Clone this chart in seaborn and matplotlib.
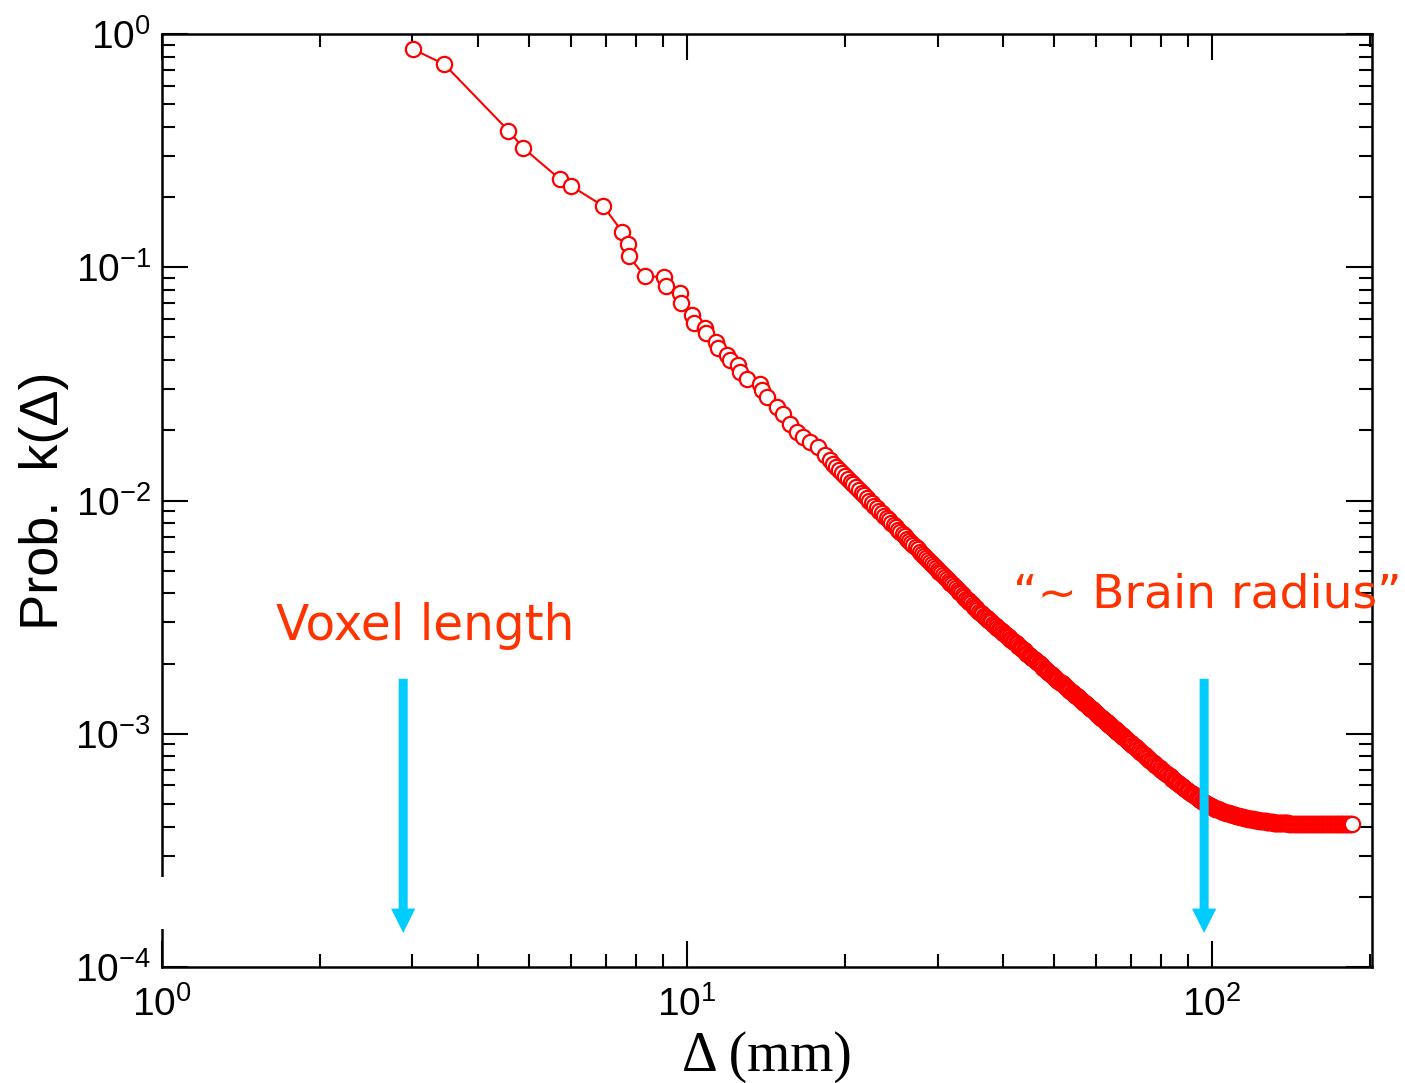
import numpy as np
import pandas as pd
import matplotlib
matplotlib.use("Agg")
import matplotlib.pyplot as plt
from matplotlib.patches import Rectangle
from matplotlib.ticker import LogLocator, FuncFormatter, NullFormatter
import seaborn as sns

# ---- measured connection-length distribution ----
# short range: individually resolved distances (mm) and probabilities
short_mm = [3.01, 3.45, 4.57, 4.88, 5.73, 6.01, 6.93, 7.53, 7.73, 7.75,
            8.30, 9.04, 9.12, 9.70, 9.76, 10.24, 10.31, 10.83, 10.89, 11.36,
            11.46, 11.93, 12.07, 12.52, 12.62, 13.03, 13.77, 13.88, 14.19, 14.82,
            15.26, 15.72, 16.18, 16.66, 17.15, 17.79, 18.30, 18.70]
short_prob = [0.860, 0.741, 0.385, 0.324, 0.2385, 0.2233, 0.1827, 0.1417, 0.1264, 0.1115,
              0.0918, 0.0906, 0.0829, 0.0775, 0.0701, 0.0622, 0.0576, 0.0550, 0.0524, 0.0478,
              0.0451, 0.0422, 0.0399, 0.0380, 0.0355, 0.0333, 0.0317, 0.0297, 0.0277, 0.0251,
              0.0236, 0.0213, 0.0196, 0.0187, 0.0178, 0.0169, 0.0156, 0.01485]

# 19 - 40 mm, 0.25 mm bins
mid_mm = [19.0, 19.25, 19.5, 19.75, 20.0, 20.25, 20.5, 20.75, 21.0, 21.25,
          21.5, 21.75, 22.0, 22.25, 22.5, 22.75, 23.0, 23.25, 23.5, 23.75,
          24.0, 24.25, 24.5, 24.75, 25.0, 25.25, 25.5, 25.75, 26.0, 26.25,
          26.5, 26.75, 27.0, 27.25, 27.5, 27.75, 28.0, 28.25, 28.5, 28.75,
          29.0, 29.25, 29.5, 29.75, 30.0, 30.25, 30.5, 30.75, 31.0, 31.25,
          31.5, 31.75, 32.0, 32.25, 32.5, 32.75, 33.0, 33.25, 33.5, 33.75,
          34.0, 34.25, 34.5, 34.75, 35.0, 35.25, 35.5, 35.75, 36.0, 36.25,
          36.5, 36.75, 37.0, 37.25, 37.5, 37.75, 38.0, 38.25, 38.5, 38.75,
          39.0, 39.25, 39.5, 39.75]
mid_prob = [0.01432, 0.01391, 0.01350, 0.01312, 0.01274, 0.01239, 0.01204, 0.01172, 0.01140, 0.01110,
            0.01081, 0.01053, 0.01026, 0.01000, 0.00974, 0.00950, 0.00927, 0.00904, 0.00882, 0.00861,
            0.00841, 0.00821, 0.00802, 0.00784, 0.00767, 0.00750, 0.00733, 0.00717, 0.00701, 0.00686,
            0.00671, 0.00657, 0.00643, 0.00630, 0.00617, 0.00604, 0.00592, 0.00580, 0.00569, 0.00558,
            0.00547, 0.00536, 0.00526, 0.00516, 0.00506, 0.00496, 0.00487, 0.00478, 0.00469, 0.00461,
            0.00453, 0.00445, 0.00437, 0.00429, 0.00422, 0.00414, 0.00407, 0.00400, 0.00394, 0.00387,
            0.00380, 0.00374, 0.00368, 0.00362, 0.00356, 0.00350, 0.00345, 0.00339, 0.00334, 0.00329,
            0.003247, 0.00320, 0.003163, 0.00312, 0.003081, 0.00304, 0.003002, 0.00296, 0.002926, 0.00289,
            0.002853, 0.00282, 0.002784, 0.00275]

# 40 - 70 mm, 0.25 mm bins
far_mm = [40.0, 40.25, 40.5, 40.75, 41.0, 41.25, 41.5, 41.75, 42.0, 42.25, 42.5, 42.75,
          43.0, 43.25, 43.5, 43.75, 44.0, 44.25, 44.5, 44.75, 45.0, 45.25, 45.5, 45.75,
          46.0, 46.25, 46.5, 46.75, 47.0, 47.25, 47.5, 47.75, 48.0, 48.25, 48.5, 48.75,
          49.0, 49.25, 49.5, 49.75, 50.0, 50.25, 50.5, 50.75, 51.0, 51.25, 51.5, 51.75,
          52.0, 52.25, 52.5, 52.75, 53.0, 53.25, 53.5, 53.75, 54.0, 54.25, 54.5, 54.75,
          55.0, 55.25, 55.5, 55.75, 56.0, 56.25, 56.5, 56.75, 57.0, 57.25, 57.5, 57.75,
          58.0, 58.25, 58.5, 58.75, 59.0, 59.25, 59.5, 59.75, 60.0, 60.25, 60.5, 60.75,
          61.0, 61.25, 61.5, 61.75, 62.0, 62.25, 62.5, 62.75, 63.0, 63.25, 63.5, 63.75,
          64.0, 64.25, 64.5, 64.75, 65.0, 65.25, 65.5, 65.75, 66.0, 66.25, 66.5, 66.75,
          67.0, 67.25, 67.5, 67.75, 68.0, 68.25, 68.5, 68.75, 69.0, 69.25, 69.5, 69.75]
far_prob = [0.002716, 0.002684, 0.002652, 0.002620, 0.002588, 0.002559, 0.002529, 0.002500,
            0.002470, 0.002442, 0.002414, 0.002386, 0.002358, 0.002332, 0.002306, 0.002280,
            0.002254, 0.002230, 0.002206, 0.002182, 0.002158, 0.002135, 0.002113, 0.002090,
            0.002067, 0.002046, 0.002025, 0.002004, 0.001983, 0.001963, 0.001943, 0.001923,
            0.001903, 0.001884, 0.001865, 0.001846, 0.001827, 0.001809, 0.001792, 0.001774,
            0.001756, 0.001739, 0.001723, 0.001706, 0.001689, 0.001674, 0.001658, 0.001643,
            0.001627, 0.001612, 0.001597, 0.001582, 0.001567, 0.001553, 0.001539, 0.001525,
            0.001511, 0.001498, 0.001485, 0.001471, 0.001458, 0.001446, 0.001433, 0.001421,
            0.001408, 0.001396, 0.001384, 0.001372, 0.001360, 0.001349, 0.001338, 0.001326,
            0.001315, 0.001304, 0.001294, 0.001283, 0.001272, 0.001262, 0.001251, 0.001241,
            0.001230, 0.001221, 0.001211, 0.001202, 0.001192, 0.001183, 0.001173, 0.001164,
            0.001154, 0.001145, 0.001137, 0.001128, 0.001119, 0.001111, 0.001102, 0.001094,
            0.001085, 0.001077, 0.001069, 0.001060, 0.001052, 0.001045, 0.001037, 0.001030,
            0.001022, 0.001015, 0.001007, 0.001000, 0.000992, 0.000985, 0.000978, 0.000971,
            0.000964, 0.000957, 0.000951, 0.000944, 0.000937, 0.000930, 0.000924, 0.000917]

# 70 - 140 mm, 0.5 mm bins
tail_mm = [70.0, 70.5, 71.0, 71.5, 72.0, 72.5, 73.0, 73.5, 74.0, 74.5,
           75.0, 75.5, 76.0, 76.5, 77.0, 77.5, 78.0, 78.5, 79.0, 79.5,
           80.0, 80.5, 81.0, 81.5, 82.0, 82.5, 83.0, 83.5, 84.0, 84.5,
           85.0, 85.5, 86.0, 86.5, 87.0, 87.5, 88.0, 88.5, 89.0, 89.5,
           90.0, 90.5, 91.0, 91.5, 92.0, 92.5, 93.0, 93.5, 94.0, 94.5,
           95.0, 95.5, 96.0, 96.5, 97.0, 97.5, 98.0, 98.5, 99.0, 99.5,
           100.0, 100.5, 101.0, 101.5, 102.0, 102.5, 103.0, 103.5, 104.0, 104.5,
           105.0, 105.5, 106.0, 106.5, 107.0, 107.5, 108.0, 108.5, 109.0, 109.5,
           110.0, 110.5, 111.0, 111.5, 112.0, 112.5, 113.0, 113.5, 114.0, 114.5,
           115.0, 115.5, 116.0, 116.5, 117.0, 117.5, 118.0, 118.5, 119.0, 119.5,
           120.0, 120.5, 121.0, 121.5, 122.0, 122.5, 123.0, 123.5, 124.0, 124.5,
           125.0, 125.5, 126.0, 126.5, 127.0, 127.5, 128.0, 128.5, 129.0, 129.5,
           130.0, 130.5, 131.0, 131.5, 132.0, 132.5, 133.0, 133.5, 134.0, 134.5,
           135.0, 135.5, 136.0, 136.5, 137.0, 137.5, 138.0, 138.5, 139.0, 139.5]
tail_prob = [0.000911, 0.000899, 0.000886, 0.000874, 0.000862, 0.000851, 0.000839, 0.000828, 0.000817, 0.000807,
             0.000796, 0.000786, 0.000775, 0.000766, 0.000756, 0.000747, 0.000737, 0.000728, 0.000719, 0.000710,
             0.000701, 0.000694, 0.000686, 0.000679, 0.000671, 0.000664, 0.000657, 0.000650, 0.000642, 0.000636,
             0.000629, 0.000623, 0.000616, 0.000610, 0.000603, 0.000597, 0.000591, 0.000586, 0.000580, 0.000575,
             0.000569, 0.000564, 0.000559, 0.000554, 0.000549, 0.000544, 0.000539, 0.000534, 0.000529, 0.000525,
             0.000520, 0.000516, 0.000512, 0.000509, 0.000505, 0.000502, 0.000498, 0.000495, 0.000491, 0.000488,
             0.000485, 0.000483, 0.000480, 0.000478, 0.000476, 0.000474, 0.000471, 0.000469, 0.000467, 0.000465,
             0.000463, 0.000462, 0.000460, 0.000459, 0.000457, 0.000456, 0.000454, 0.000453, 0.000451, 0.000450,
             0.000448, 0.000447, 0.000445, 0.000444, 0.000443, 0.000442, 0.000441, 0.000440, 0.000439, 0.000438,
             0.000437, 0.000436, 0.000435, 0.000434, 0.000433, 0.000432, 0.000431, 0.000430, 0.000429, 0.000429,
             0.000428, 0.000428, 0.000427, 0.000427, 0.000426, 0.000425, 0.000424, 0.000424, 0.000423, 0.000423,
             0.000422, 0.000422, 0.000421, 0.000421, 0.000420, 0.000420, 0.000419, 0.000419, 0.000418, 0.000418,
             0.000417, 0.000417, 0.000416, 0.000416, 0.000416, 0.000416, 0.000415, 0.000415, 0.000415, 0.000415,
             0.000414, 0.000414, 0.000414, 0.000414, 0.000413, 0.000413, 0.000413, 0.000413, 0.000413, 0.000413]

# 140 - 185 mm, 1 mm bins
end_mm = [140, 141, 142, 143, 144, 145, 146, 147, 148, 149,
          150, 151, 152, 153, 154, 155, 156, 157, 158, 159,
          160, 161, 162, 163, 164, 165, 166, 167, 168, 169,
          170, 171, 172, 173, 174, 175, 176, 177, 178, 179,
          180, 181, 182, 183, 184, 185]
end_prob = [0.000412, 0.000412, 0.000412, 0.000411, 0.000411, 0.000411, 0.000411, 0.000411, 0.000410, 0.000410,
            0.000410, 0.000410, 0.000410, 0.000410, 0.000410, 0.000410, 0.000410, 0.000410, 0.000410, 0.000409,
            0.000409, 0.000409, 0.000409, 0.000409, 0.000409, 0.000409, 0.000409, 0.000409, 0.000409, 0.000409,
            0.000409, 0.000409, 0.000409, 0.000409, 0.000409, 0.000409, 0.000409, 0.000409, 0.000409, 0.000409,
            0.000409, 0.000409, 0.000409, 0.000409, 0.000409, 0.000409]

# reference scales marked with arrows (mm)
voxel_mm = 2.88
brain_mm = 96.6

# ---- styling ----
sns.set_style("ticks")
plt.rcParams["font.family"] = ["Liberation Sans", "DejaVu Sans"]
plt.rcParams["mathtext.fontset"] = "custom"
plt.rcParams["mathtext.rm"] = "Liberation Sans"
plt.rcParams["mathtext.it"] = "Liberation Sans:italic"
plt.rcParams["mathtext.bf"] = "Liberation Sans:bold"
for key in ("text.color", "axes.labelcolor", "xtick.color", "ytick.color",
            "xtick.labelcolor", "ytick.labelcolor", "axes.edgecolor"):
    plt.rcParams[key] = "black"

RED = "#ff0000"
NOTE = "#ff3300"
CYAN = "#00ccff"

df = pd.DataFrame({
    "dist": short_mm + mid_mm + far_mm + tail_mm + end_mm,
    "prob": short_prob + mid_prob + far_prob + tail_prob + end_prob,
})

W, H = 1405, 1083
fig = plt.figure(figsize=(W / 100, H / 100), dpi=100)
ax = fig.add_axes([162 / W, 1 - 967 / H, 1210 / W, 933 / H])

sns.lineplot(data=df, x="dist", y="prob", ax=ax, estimator=None, sort=False,
             color=RED, linewidth=1.5, marker="o", markersize=11,
             markerfacecolor="white", markeredgecolor=RED, markeredgewidth=1.6)

ax.set_xscale("log")
ax.set_yscale("log")
ax.set_xlim(1, 201.7)
ax.set_ylim(1e-4, 1)

pow_fmt = FuncFormatter(lambda v, p: r"$\mathregular{10^{%d}}$" % int(round(np.log10(v))))
for axis in (ax.xaxis, ax.yaxis):
    axis.set_major_locator(LogLocator(base=10, numticks=10))
    axis.set_minor_locator(LogLocator(base=10, subs=np.arange(2, 10), numticks=40))
    axis.set_major_formatter(pow_fmt)
    axis.set_minor_formatter(NullFormatter())

ax.tick_params(which="both", direction="in", top=True, right=True,
               width=1.5, color="black", labelcolor="black")
ax.tick_params(which="major", length=19, labelsize=28)
ax.tick_params(which="minor", length=9.5)
ax.tick_params(axis="x", which="major", pad=14)
ax.tick_params(axis="y", which="major", pad=8)
for sp in ax.spines.values():
    sp.set_linewidth(1.8)
    sp.set_color("black")

ax.set_xlabel("Δ (mm)", family=["Liberation Serif", "DejaVu Serif"], fontsize=40, labelpad=5)
ax.set_ylabel("Prob.  k(Δ)", fontsize=39, labelpad=4)

# annotations
fig.text(276 / W, 1 - 640 / H, "Voxel length", ha="left", va="baseline",
         fontsize=35, family="DejaVu Sans", color=NOTE)
fig.text(1013 / W, 1 - 607 / H, "\u201c~ Brain radius\u201d", ha="left", va="baseline",
         fontsize=34, family="DejaVu Sans", color=NOTE)

arrow_style = "simple,head_length=1.75,head_width=1.75,tail_width=0.65"
for xpos in (voxel_mm, brain_mm):
    ax.annotate("", xy=(xpos, 1.40e-4), xytext=(xpos, 1.72e-3), xycoords="data",
                arrowprops=dict(arrowstyle=arrow_style, mutation_scale=10,
                                color=CYAN, lw=0, shrinkA=0, shrinkB=0))

# blank patch over a short stretch of the left frame
fig.add_artist(Rectangle((150 / W, 1 - 929 / H), 32 / W, 52 / H,
                         transform=fig.transFigure, facecolor="white",
                         edgecolor="none", zorder=20))

fig.savefig("out.png", dpi=100)
